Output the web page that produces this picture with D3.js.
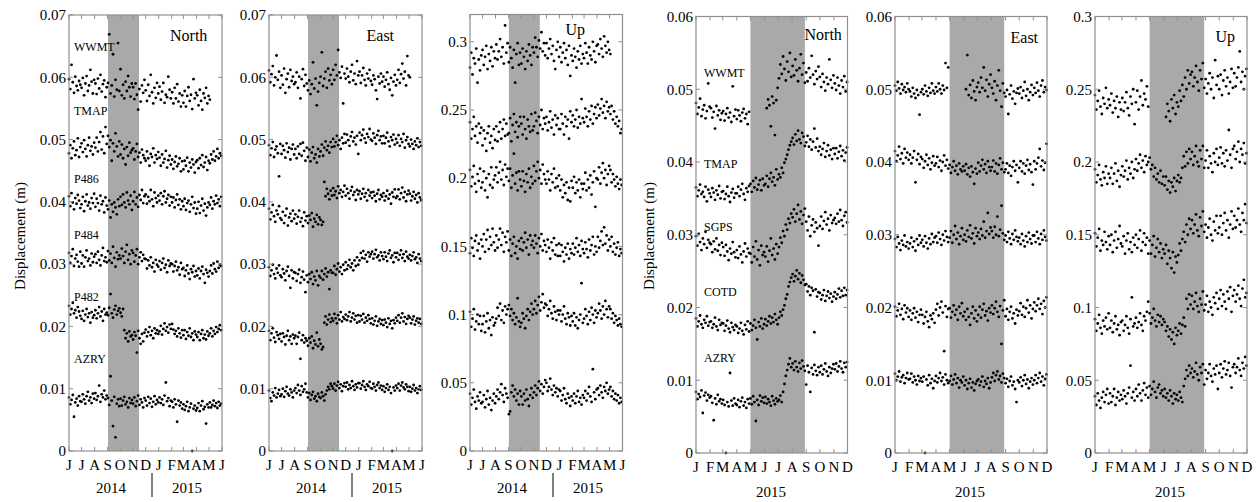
<!DOCTYPE html>
<html><head><meta charset="utf-8">
<script src="https://cdn.jsdelivr.net/npm/d3@7"></script>
<style>
body{margin:0;background:#fff}
svg{display:block}
text{font-family:"Liberation Serif","Times New Roman",serif;fill:#000}
</style>
</head><body>
<svg id="c" width="1260" height="502"></svg>
<script>
// ---------- labels / categories ----------
const monthsA = ["J","J","A","S","O","N","D","J","F","M","A","M","J"];
const monthsB = ["J","F","M","A","M","J","J","A","S","O","N","D"];
const stationsA = ["WWMT","TMAP","P486","P484","P482","AZRY"];
const stationsB = ["WWMT","TMAP","SGPS","COTD","AZRY"];
const components = ["North","East","Up"];
const yTicksNE_A = [0,0.01,0.02,0.03,0.04,0.05,0.06,0.07];
const yTicksNE_B = [0,0.01,0.02,0.03,0.04,0.05,0.06];
const yTicksU = [0,0.05,0.1,0.15,0.2,0.25,0.3];
const yearsA = ["2014","2015"];
const yearsB = ["2015"];
// sampling: every 3 days from start; N/E values in 0.1 mm, Up values in mm
const startA = "2014-06-01", endA = "2015-06-01", shadeA = ["2014-09-02","2014-11-15"];
const startB = "2015-01-01", endB = "2015-12-01", shadeB = ["2015-05-01","2015-08-29"];
const stepDays = 3;

// ---------- 2014-2015 North (0.1 mm) ----------
const northA_WWMT = [597,581,620,592,575,601,586,579,594,588, 583,599,571,590,602,578,587,612,593,574,596, 590,573,598,582,604,577,589,595,568,584, 591,669,574,587,637,569,596,580,655,578, 613,571,588,566,593,578,602,584,569,590, 584,565,590,572,548,581,561,587,575,596, 579,562,588,570,604,576,558,583,567,591,574, 585,564,577,591,559,572,568,601,580,566, 576,558,583,566,589,561,574,553,571, 559,578,553,570,584,562,572,549,597,566,575, 571,555,580,562,548,574,567,583,558,570, 564];
const northA_TMAP = [478,491,470,486,497,475,483,502,472,488, 494,480,499,485,473,491,503,482,489,476,495, 487,503,481,496,512,484,505,478,520,493, 506,488,499,466,494,481,510,489,473,497, 476,492,470,485,460,488,474,495,479,483, 486,468,481,493,472,479,463,484,475,470, 466,481,470,458,477,472,486,463,475,469,480, 471,458,476,463,469,482,455,467,474,460, 468,453,464,473,457,461,470,449,465, 452,466,458,471,449,463,455,468,460,447,464, 467,454,470,459,475,456,463,472,451,466, 462,476,468,481,466,473,485,470,478,474];
const northA_P486 = [409,393,414,399,388,406,397,411,402,390, 396,408,385,401,412,394,399,389,406,398,413, 392,405,398,386,410,396,401,383,407,394, 388,402,375,396,384,399,391,380,404,393, 408,395,412,399,391,415,402,396,410,387, 401,416,396,407,392,411,403,419,398,409, 412,397,408,401,419,404,393,415,406,399,410, 402,414,396,409,417,399,405,411,394,408, 399,407,391,403,412,395,404,388,401, 393,405,387,398,402,384,396,408,390,399,381, 389,400,382,394,405,386,397,378,391,399, 395,407,389,401,396,410,398,404,393,408];
const northA_P484 = [318,302,313,324,297,309,315,304,296,320, 301,314,296,311,322,305,309,298,317,303,312, 316,302,320,307,298,314,326,305,311,303, 321,306,317,302,328,310,296,319,308,314, 309,325,313,302,320,331,307,316,300,322, 318,304,314,324,300,311,319,305,315,309, 308,293,306,298,311,295,302,288,307,299,296, 305,291,302,309,294,299,287,306,297,301, 300,288,297,304,290,295,283,302,292, 294,281,290,298,285,276,292,287,297,280,289, 282,293,277,289,296,284,270,291,286,280, 289,298,285,301,292,288,304,294,299,297];
const northA_P482 = [233,219,228,238,221,226,214,231,224,217, 212,225,209,219,228,215,221,206,223,214,218, 226,213,221,231,216,224,209,228,219,222, 218,230,252,221,214,227,233,219,225,229, 222,216,228,194,181,189,176,192,184,186, 179,191,185,158,193,181,172,188,176,190, 195,184,191,199,186,193,181,197,189,194,188, 192,201,187,196,205,193,199,190,203,196, 204,195,188,193,184,197,189,182,194, 186,194,180,191,185,197,183,189,178,192,187, 183,191,178,188,194,181,187,179,192,185, 189,197,184,193,188,199,191,196,202,194];
const northA_AZRY = [86,75,82,90,55,78,84,73,88,80, 79,91,83,76,88,95,81,86,77,92,84, 93,82,88,105,79,91,86,97,83,89, 85,74,120,81,40,87,22,76,83,72, 84,73,81,87,75,79,70,85,77,82, 76,86,72,80,89,74,83,78,70,85, 81,73,87,77,84,71,79,88,75,82,78, 86,77,83,74,89,110,80,85,72,81, 79,70,83,75,47,81,73,78,68, 75,66,72,79,64,70,76,0,68,73,65, 69,77,64,73,80,67,71,44,75,70, 78,70,74,81,72,77,69,79,73,76];

// ---------- 2014-2015 East (0.1 mm) ----------
const eastA_WWMT = [611,592,605,618,587,600,635,596,609,583, 603,588,614,575,597,606,584,612,594,601,589, 592,608,583,601,566,597,613,586,604,590, 579,595,573,589,624,582,598,555,577,591, 601,640,586,598,609,583,614,595,604,589, 612,596,620,603,644,608,599,617,558,606, 598,614,601,592,609,620,595,606,589,626,603, 609,591,603,615,596,587,606,598,612,594, 588,603,597,579,565,601,590,606,593, 601,585,596,608,589,580,599,571,593,604,587, 596,612,591,605,622,598,609,587,634,603, 600];
const eastA_TMAP = [491,475,486,496,472,484,489,478,441,493, 477,490,483,471,494,480,487,468,485,492,476, 485,470,489,477,493,474,495,482,466,487, 472,484,465,479,488,470,476,463,485,473, 481,492,474,487,497,483,490,479,496,488, 501,489,496,506,491,499,485,503,494,509, 495,508,499,490,505,512,497,503,492,506,477, 511,499,507,516,502,495,509,504,517,500, 498,510,503,493,507,514,499,505,494, 506,494,503,511,497,489,504,499,508,492,501, 495,507,490,501,496,509,487,499,504,493, 489,500,493,485,497,491,502,488,496,490];
const eastA_P486 = [389,372,383,395,377,368,386,380,393,374, 371,384,366,378,389,362,375,381,369,386,373, 380,365,376,386,368,374,361,383,370,377, 366,378,371,382,360,373,368,379,364,375, 371,363,368,432,409,421,413,404,418,410, 422,411,417,406,425,414,419,408,416,426, 410,421,414,405,418,424,411,416,403,419,412, 417,405,413,421,408,414,402,419,410,415, 406,416,410,401,413,419,404,411,408, 414,402,409,418,405,412,397,415,408,420,406, 409,420,404,414,423,407,416,401,412,418, 413,402,409,416,405,411,399,414,407,403];
const eastA_P484 = [295,281,290,299,284,277,293,286,298,282, 279,292,285,274,289,296,281,262,290,277,287, 286,273,284,291,270,279,288,275,255,282, 271,284,276,287,268,280,274,289,266,281, 278,289,275,284,293,280,287,260,290,286, 286,297,283,292,301,288,295,284,299,290, 303,292,298,307,295,301,290,306,297,311,299, 306,318,310,321,309,315,304,319,312,316, 320,309,316,323,311,314,306,319,313, 308,319,312,305,317,322,310,314,303,318,311, 318,307,315,322,310,316,305,320,312,309, 315,306,313,319,308,311,302,316,309,305];
const eastA_P482 = [193,178,189,197,182,175,191,186,180,188, 176,189,183,171,185,193,178,184,172,187,181, 185,172,183,190,148,178,186,174,181,177, 169,181,174,184,165,177,171,190,168,179, 172,163,167,206,216,203,211,219,207,213, 209,220,213,205,218,211,223,208,215,212, 219,210,216,223,208,214,221,211,217,206,218, 208,217,211,220,206,214,209,218,212,205, 213,203,209,216,201,208,212,204,210, 202,211,206,199,213,204,209,197,210,205,214, 209,218,206,214,221,208,215,204,212,217, 214,205,211,216,203,209,213,206,212,204];
const eastA_AZRY = [97,85,80,94,89,101,86,92,98,88, 91,100,87,96,103,92,89,99,94,86,97, 101,93,106,97,90,104,95,99,108,94, 86,93,82,90,95,84,88,80,92,87, 85,94,88,81,91,97,103,99,108,104, 100,108,97,105,111,101,107,96,104,109, 103,110,99,106,101,112,104,98,107,102,109, 109,100,106,112,103,98,107,104,111,101, 100,108,103,97,106,110,101,105,98, 104,95,101,107,98,103,93,0,102,97,105, 101,108,97,105,110,102,99,107,103,96, 103,95,100,106,97,101,93,99,104,98];

// ---------- 2014-2015 Up (mm) ----------
const upA_WWMT = [281,292,276,288,284,295,270,287,279,290, 294,283,289,297,280,291,286,296,282,293,288, 298,287,293,302,289,296,284,312,292,299, 285,296,288,281,294,270,291,299,283,292, 284,295,289,280,293,286,298,290,283,296, 292,303,296,289,301,295,307,293,299,290, 299,288,295,302,291,297,286,280,294,300,289, 296,285,292,299,288,294,283,297,275,290, 286,295,289,281,293,287,297,284,291, 288,299,292,284,296,290,287,300,293,285,297, 298,291,302,295,289,304,297,292,300,294, 291];
const upA_TMAP = [241,229,236,245,231,238,226,240,233,237, 224,235,229,220,233,238,226,231,222,236,228, 238,227,234,241,229,236,243,231,240,232, 233,244,227,239,247,234,241,230,238,245, 240,232,245,236,229,243,238,234,247,235, 238,248,242,233,245,239,250,236,244,240, 245,235,241,249,237,243,232,246,239,244,236, 236,247,240,232,245,238,243,229,249,241, 246,238,243,250,237,245,240,258,244, 241,251,245,238,249,243,253,240,247,252,244, 254,246,251,258,248,253,244,256,249,252, 247,253,243,249,240,245,238,242,233,236];
const upA_P486 = [206,194,201,209,196,190,203,198,207,193, 197,205,191,200,186,203,195,208,193,199,202, 208,197,204,212,199,206,195,210,201,207, 198,207,193,202,218,196,204,191,205,199, 194,205,198,190,203,197,207,193,201,196, 209,198,205,212,200,206,196,210,203,199, 196,205,199,191,203,197,207,193,200,194,202, 191,199,186,195,189,197,184,193,183,198, 193,201,189,197,191,199,186,196,192, 196,204,191,199,193,202,188,197,205,179,200, 199,208,196,204,211,200,206,195,203,209, 206,197,203,199,194,201,196,192,199,195];
const upA_P484 = [145,156,149,143,154,158,147,152,141,155, 150,159,146,155,162,148,157,151,163,153,147, 158,149,155,163,151,160,146,157,153,161, 147,155,143,152,157,145,150,141,154,148, 156,147,153,160,149,155,144,158,151,154, 149,158,152,145,156,150,159,147,154,151, 146,155,149,141,153,147,156,144,151,143,152, 143,151,146,139,149,144,152,141,148,145, 152,144,149,156,146,151,143,154,148, 145,153,148,142,155,147,151,157,144,150,146, 157,149,154,161,151,164,152,158,147,155, 150,157,146,152,144,149,153,143,148,145];
const upA_P482 = [102,91,97,104,89,95,100,93,99,88, 93,99,87,95,101,90,96,85,98,92,94, 97,105,99,108,96,103,94,106,100,104, 107,99,104,96,101,93,98,112,95,91, 94,101,97,90,99,104,96,102,108,100, 104,110,101,107,113,103,109,115,105,108, 107,99,104,110,101,97,106,102,96,103,100, 103,95,100,106,97,93,101,98,92,99, 95,101,92,98,90,96,100,123,94, 97,104,99,93,102,96,105,100,94,103,98, 101,108,103,97,106,100,110,104,98,106, 104,97,101,94,99,96,92,97,93,91];
const upA_AZRY = [42,34,39,45,36,31,40,37,43,35, 36,41,32,38,44,34,39,30,37,42,35, 40,45,38,43,49,41,36,46,42,39, 27,29,43,48,40,45,37,42,34,44, 40,34,42,37,45,38,33,41,46,39, 43,48,41,46,51,44,49,42,47,52, 50,44,47,53,45,41,48,43,46,40,45, 44,37,41,46,38,35,42,39,33,40, 37,42,35,40,44,36,39,34,41, 39,44,37,42,47,40,36,60,43,38,45, 46,41,48,43,39,47,44,50,42,45, 47,40,44,38,42,37,41,35,39,36];

// ---------- 2015 North (0.1 mm) ----------
const northB_WWMT = [481,466,475,487,463,472,478,460,470,508,476, 474,461,469,446,477,464,471,458,467, 470,457,466,474,461,468,455,504,463,472, 459,471,464,456,468,473,460,466,452,469, null,null,null,null,null,null,null,null,null,null,null, null,474,486,478,449,490,481,437,485,502, 515,534,521,545,528,512,538,524,550,517, 532,519,541,526,511,529,548,520,536,509, 523,511,529,516,546,520,507,525,514,531, 517,503,521,510,498,516,507,541,513,502,519, 508,499,516,505,494,512,503,518,497,510];
const northB_TMAP = [365,353,361,369,356,359,352,366,346,362,357, 352,364,358,348,361,355,367,350,359, 360,349,356,366,353,345,358,363,351,357, 357,366,353,362,370,356,348,364,359,367, 370,359,374,365,378,362,369,375,361,377,368, 370,381,366,377,385,373,379,368,390,376, 383,379,392,385,399,404,410,417,423,428, 433,424,438,429,443,431,426,440,435,422, 427,436,421,431,417,428,446,420,432,415, 421,410,418,426,407,415,423,409,417,404,419, 411,419,405,414,422,408,416,402,413,420];
const northB_SGPS = [298,285,301,290,279,295,287,304,282,293,289, 287,276,291,280,295,278,286,272,289, 283,271,286,277,265,281,274,290,276,269, 279,268,284,273,262,277,288,270,281,275, 274,262,283,270,291,266,279,258,285,272,276, 270,284,263,278,295,272,281,266,287,274, 283,296,289,305,298,314,307,322,316,329, 324,335,318,329,341,321,332,315,327,336, 318,306,325,298,313,321,304,317,309,285, 312,325,308,319,331,314,322,306,327,316,320, 323,315,329,318,334,320,312,326,331,317];
const northB_COTD = [185,174,181,189,177,172,183,179,188,175,180, 181,172,177,186,174,169,183,176,179, 178,168,175,182,171,166,179,173,169,176, 174,165,171,179,168,163,176,170,181,167, 178,169,175,183,172,156,180,174,185,171,177, 184,175,181,188,178,186,180,191,183,177, 186,194,189,197,203,212,218,229,235,241, 246,236,243,251,239,247,234,244,238,231, 232,222,229,217,227,223,166,225,215,221, 220,211,217,224,209,216,222,213,219,208,215, 221,212,218,226,214,223,216,227,217,224];
const northB_AZRY = [84,74,81,77,86,55,79,83,72,80,76, 78,69,45,75,67,80,71,74,68, 73,66,0,70,64,110,72,65,75,68, 66,73,63,71,76,65,70,62,74,68, 75,67,78,70,44,73,66,79,71,76,69, 77,68,74,70,65,78,72,67,75,71, 73,79,70,84,95,106,114,122,130,118, 123,114,126,118,112,124,116,127,119,113, 94,120,111,84,117,108,121,113,107,118, 111,120,108,115,123,112,106,118,110,116,122, 115,123,112,119,126,116,111,124,118,125];

// ---------- 2015 East (0.1 mm) ----------
const eastB_WWMT = [505,498,510,501,494,507,499,503,496,508,500, 497,490,502,494,488,499,492,465,496, 500,493,505,497,491,502,495,508,498,494, 503,497,508,500,494,505,499,536,502,530, null,null,null,null,null,null,null,null,null,null,null, null,500,547,492,506,488,512,497,485,503, 509,496,516,502,530,498,513,490,507,520, 502,494,511,485,505,526,498,476,508,495, 490,499,466,493,505,487,497,480,495,501, 494,503,488,498,510,491,500,485,496,506,492, 502,495,509,498,490,505,512,496,503,499];
const eastB_TMAP = [415,401,409,421,404,412,398,418,406,413,403, 410,398,406,415,372,403,411,397,407, 404,392,401,410,396,405,390,399,408,395, 398,407,393,402,388,400,409,395,403,391, 396,385,393,401,388,395,383,398,390,387,394, 388,397,383,392,380,394,386,370,391,384, 399,387,395,403,390,397,385,401,393,388, 393,402,387,398,384,396,405,390,399,386, 390,398,385,395,381,393,401,388,396,372, 392,401,387,398,384,395,403,389,397,386,369, 401,390,398,406,418,394,402,389,399,425];
const eastB_SGPS = [294,283,297,288,279,292,286,299,284,290,281, 288,296,283,291,278,294,286,299,289, 293,284,298,289,281,295,287,301,290,296, 298,289,303,294,286,300,292,305,297,290, 296,305,289,300,312,294,303,287,298,309,293, 300,291,306,297,313,295,302,288,309,298, 303,294,308,299,318,296,305,330,301,310, 305,296,311,300,325,298,307,340,302,293, 299,290,304,295,287,301,293,306,297,291, 296,287,301,292,284,298,290,303,294,288,299, 299,290,304,295,287,301,293,306,297,292];
const eastB_COTD = [201,188,196,205,190,198,184,203,193,199,187, 196,183,192,199,186,194,180,190,197, 190,178,187,194,181,173,189,184,192,179, 197,205,189,200,208,193,140,202,187,198, 199,186,194,203,190,197,183,201,192,206,188, 194,183,198,187,176,192,201,185,196,181, 190,201,186,197,205,189,195,182,199,193, 203,191,199,208,194,187,202,150,196,210, 188,198,183,194,201,185,192,178,197,189, 195,206,190,201,187,199,210,193,203,185,198, 207,195,203,212,198,205,191,209,200,214];
const eastB_AZRY = [109,100,105,112,98,104,107,96,103,110,101, 102,109,97,105,100,94,106,99,103, 98,105,0,101,93,107,96,102,89,99, 106,97,103,110,99,104,94,108,100,96, 99,106,94,101,108,96,103,90,100,97,105, 93,100,88,96,102,90,97,86,95,99, 101,93,98,105,91,99,95,103,89,97, 104,110,99,107,112,101,106,97,109,103, 96,102,91,99,105,93,98,88,70,100, 97,104,92,100,107,95,101,89,98,103,94, 100,107,96,103,110,98,105,93,102,108];

// ---------- 2015 Up (mm) ----------
const upB_WWMT = [246,236,242,249,238,233,244,240,251,237,243, 239,247,234,242,237,245,231,241,236, 244,235,241,248,237,232,245,240,250,226, 241,249,236,245,256,239,247,243,252,238, null,null,null,null,null,null,null,null,null,null,null, null,231,240,235,228,243,237,246,233,241, 238,249,242,253,245,258,250,263,254,260, 262,252,258,266,255,249,263,257,268,251, 257,247,254,261,250,258,244,270,253,259, 250,260,246,256,263,252,258,247,255,264,251, 261,252,258,265,276,255,262,250,259,264];
const upB_TMAP = [195,186,191,198,188,184,193,189,197,185,192, 189,196,185,192,199,187,194,183,191, 197,190,194,201,188,196,192,200,189,195, 202,194,199,205,196,201,193,204,198,200, 203,195,198,190,196,188,192,186,194,185,190, 184,190,181,187,179,186,183,189,180,187, 191,186,189,196,204,197,207,199,209,202, 207,198,204,211,200,197,208,202,211,196, 201,208,196,204,199,193,206,200,209,198, 203,210,199,206,197,208,201,222,205,196,209, 211,202,207,214,200,209,205,213,199,206];
const upB_SGPS = [151,142,148,154,139,146,143,152,145,140,149, 143,150,138,146,152,141,147,156,144, 142,149,137,146,151,140,145,138,148,143, 150,141,147,153,139,145,151,143,148,137, 146,137,143,149,135,141,147,138,144,134,140, 137,143,130,139,134,127,138,124,135,131, 136,144,139,147,152,145,157,150,161,154, 160,151,157,164,153,149,162,156,166,152, 157,148,155,161,150,146,159,153,163,151, 155,163,150,158,165,153,160,148,157,166,154, 163,155,160,168,157,152,165,160,171,158];
const upB_COTD = [92,84,89,95,86,82,91,87,93,85,96, 86,91,83,89,94,85,88,81,90, 91,84,88,94,86,82,92,107,87,89, 93,86,90,96,88,84,94,91,97,104, 96,89,93,99,91,87,95,90,94,88,92, 90,84,87,80,85,78,83,75,86,81, 84,89,82,88,93,87,106,99,109,102, 108,99,104,110,101,97,106,102,111,98, 102,108,97,104,100,95,107,103,110,99, 106,112,101,109,104,99,111,106,114,97,108, 112,104,109,115,106,101,113,119,107,110];
const upB_AZRY = [39,33,41,36,31,38,42,35,40,44,34, 41,35,39,44,33,38,42,36,40, 37,43,39,34,41,45,60,38,42,36, 44,39,47,41,36,43,48,40,45,38, 46,40,44,49,42,38,45,47,41,43,39, 44,38,41,36,43,39,34,41,37,40, 36,42,38,35,46,51,57,53,60,55, 58,52,56,62,54,50,59,55,61,47, 57,51,55,61,53,49,58,54,60,44, 55,61,52,58,63,54,57,62,53,45,59, 61,55,59,65,57,53,62,58,66,60];

// ---------- layout (positions / styles, separate from data) ----------
const NE = 1e-4, UP = 1e-3;
const panels = [
  {grp:"A", comp:0, unit:NE, data:[northA_WWMT,northA_TMAP,northA_P486,northA_P484,northA_P482,northA_AZRY], yMax:0.07, ticks:yTicksNE_A, x0:69,  w:153, top:15, bot:451, tx:170, ty:40.5, names:stationsA, ny:[51,115,183,238.5,300.5,362.5]},
  {grp:"A", comp:1, unit:NE, data:[eastA_WWMT,eastA_TMAP,eastA_P486,eastA_P484,eastA_P482,eastA_AZRY], yMax:0.07, ticks:yTicksNE_A, x0:269, w:153, top:15, bot:451, tx:366.5, ty:40.5},
  {grp:"A", comp:2, unit:UP, data:[upA_WWMT,upA_TMAP,upA_P486,upA_P484,upA_P482,upA_AZRY], yMax:0.32, ticks:yTicksU, x0:470, w:152.5, top:14.5, bot:451, tx:565.5, ty:35},
  {grp:"B", comp:0, unit:NE, data:[northB_WWMT,northB_TMAP,northB_SGPS,northB_COTD,northB_AZRY], yMax:0.06, ticks:yTicksNE_B, x0:696, w:151.5, top:16.5, bot:453, tx:804.5, ty:39.5, names:stationsB, ny:[77,167.5,230.5,295.5,361.5]},
  {grp:"B", comp:1, unit:NE, data:[eastB_WWMT,eastB_TMAP,eastB_SGPS,eastB_COTD,eastB_AZRY], yMax:0.06, ticks:yTicksNE_B, x0:895, w:152, top:16.5, bot:453, tx:1010.5, ty:43},
  {grp:"B", comp:2, unit:UP, data:[upB_WWMT,upB_TMAP,upB_SGPS,upB_COTD,upB_AZRY], yMax:0.3, ticks:yTicksU, x0:1095, w:152, top:16.5, bot:453, tx:1215.5, ty:41.5}
];
const groups = {
  A:{start:startA, end:endA, shade:shadeA, months:monthsA, years:yearsA, monthY:470, yearY:493},
  B:{start:startB, end:endB, shade:shadeB, months:monthsB, years:yearsB, monthY:471.5, yearY:497}
};

const parse = d3.timeParse("%Y-%m-%d");
const svg = d3.select("#c");
const frameCol = "#8f8f8f";
const FONT = "Liberation Serif, Times New Roman, serif";

panels.forEach(p => {
  const g = groups[p.grp];
  const t0 = parse(g.start), t1 = parse(g.end);
  const x = d3.scaleTime().domain([t0, t1]).range([p.x0, p.x0 + p.w]);
  const y = d3.scaleLinear().domain([0, p.yMax]).range([p.bot, p.top]);
  const gp = svg.append("g").attr("font-family", FONT);

  // shaded period
  gp.append("rect")
    .attr("x", x(parse(g.shade[0]))).attr("y", p.top)
    .attr("width", x(parse(g.shade[1])) - x(parse(g.shade[0])))
    .attr("height", p.bot - p.top)
    .attr("fill", "#a9a9a9");

  // points
  p.data.forEach(arr => {
    const pts = arr.map((v, i) => ({t: d3.timeDay.offset(t0, i * stepDays), v}))
      .filter(d => d.v !== null && d.t <= t1);
    gp.append("g").selectAll("circle").data(pts).join("circle")
      .attr("cx", d => x(d.t)).attr("cy", d => y(d.v * p.unit))
      .attr("r", 1.4).attr("fill", "#000");
  });

  // frame
  gp.append("rect").attr("x", p.x0).attr("y", p.top).attr("width", p.w).attr("height", p.bot - p.top)
    .attr("fill", "none").attr("stroke", frameCol).attr("stroke-width", 1.2);

  // month ticks (top & bottom, inward)
  const months = d3.timeMonth.range(t0, d3.timeDay.offset(t1, 1));
  const tk = 4;
  months.forEach(m => {
    const xm = x(m);
    gp.append("line").attr("x1", xm).attr("x2", xm).attr("y1", p.bot).attr("y2", p.bot - tk).attr("stroke", frameCol);
    gp.append("line").attr("x1", xm).attr("x2", xm).attr("y1", p.top).attr("y2", p.top + tk).attr("stroke", frameCol);
  });
  gp.append("g").selectAll("text").data(months).join("text")
    .attr("x", d => x(d)).attr("y", g.monthY).attr("text-anchor", "middle")
    .attr("font-size", 15).text((d, i) => g.months[i]);

  // y ticks
  p.ticks.forEach(v => {
    const yv = y(v);
    gp.append("line").attr("x1", p.x0).attr("x2", p.x0 + tk).attr("y1", yv).attr("y2", yv).attr("stroke", frameCol);
    gp.append("line").attr("x1", p.x0 + p.w).attr("x2", p.x0 + p.w - tk).attr("y1", yv).attr("y2", yv).attr("stroke", frameCol);
    gp.append("text").attr("x", p.x0 - 3).attr("y", yv).attr("dy", "0.35em")
      .attr("text-anchor", "end").attr("font-size", 15).text(String(v));
  });

  // years
  if (p.grp === "A") {
    gp.append("text").attr("x", p.x0 + 42).attr("y", g.yearY).attr("text-anchor", "middle").attr("font-size", 15).text(g.years[0]);
    gp.append("text").attr("x", p.x0 + 118).attr("y", g.yearY).attr("text-anchor", "middle").attr("font-size", 15).text(g.years[1]);
    gp.append("line").attr("x1", p.x0 + 83).attr("x2", p.x0 + 83).attr("y1", 473).attr("y2", 497).attr("stroke", "#000").attr("stroke-width", 1);
  } else {
    gp.append("text").attr("x", p.x0 + 75).attr("y", g.yearY).attr("text-anchor", "middle").attr("font-size", 15).text(g.years[0]);
  }

  // component title
  gp.append("text").attr("x", p.tx).attr("y", p.ty).attr("font-size", 16).text(components[p.comp]);

  // station names
  if (p.names) {
    p.names.forEach((n, i) => {
      gp.append("text").attr("x", p.x0 + 5 + (p.grp === "B" ? 3 : 0)).attr("y", p.ny[i]).attr("font-size", 12).text(n);
    });
    // y axis title
    const cx = p.grp === "A" ? 25 : 654;
    gp.append("text").attr("transform", `translate(${cx},236) rotate(-90)`)
      .attr("text-anchor", "middle").attr("font-size", 15).text("Displacement (m)");
  }
});
</script>
</body></html>
